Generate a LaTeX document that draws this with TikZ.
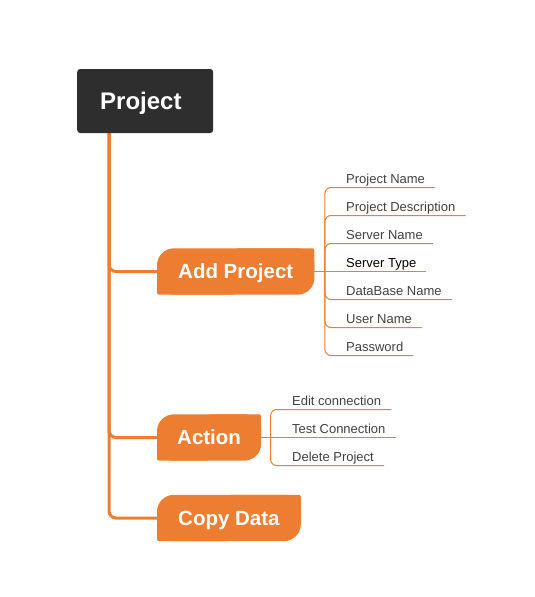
\documentclass[tikz,border=0pt]{standalone}
\usepackage{fontspec}
\setmainfont{Liberation Sans}
\usetikzlibrary{backgrounds}
\definecolor{brand}{HTML}{ED7D31}
\definecolor{rootgray}{HTML}{2E2E2E}
\definecolor{leafgray}{HTML}{404040}
\begin{document}
\begin{tikzpicture}[x=1pt,y=-1pt,
  root node/.style={fill=rootgray,rounded corners=3pt,text=white,font=\bfseries\fontsize{24}{28}\selectfont,anchor=west,minimum height=64pt,text width=90pt,inner xsep=23pt,align=left,text depth=0pt},
  branch node/.style={text=white,font=\bfseries\fontsize{20.5}{24}\selectfont,anchor=west,minimum height=46pt,inner xsep=21pt,text depth=0pt},
  leaf node/.style={text=leafgray,font=\fontsize{13}{15}\selectfont,anchor=south west,inner xsep=0pt,inner ysep=4pt,text depth=0pt},
  trunk/.style={brand,line width=3pt,rounded corners=7pt},
  twig/.style={brand,line width=1pt,rounded corners=6pt}]
  \useasboundingbox (0,0) rectangle (535,597);

  \node[root node] (root) at (77,101) {Project};
  \node[branch node] (add) at (157,271.5) {Add Project};
  \node[branch node,inner xsep=20pt] (act) at (157,437.5) {Action};
  \node[branch node] (copy) at (157,518) {Copy Data};

  \node[leaf node] (pname) at (346,187.5) {Project Name};
  \node[leaf node] (pdesc) at (346,215.5) {Project Description};
  \node[leaf node] (sname) at (346,243.5) {Server Name};
  \node[leaf node,text=black] (stype) at (346,271.5) {Server Type};
  \node[leaf node] (dbname) at (346,299.5) {DataBase Name};
  \node[leaf node] (uname) at (346,327.5) {User Name};
  \node[leaf node] (pwd) at (346,355.5) {Password};

  \node[leaf node] (edit) at (292,409.5) {Edit connection};
  \node[leaf node] (test) at (292,437.5) {Test Connection};
  \node[leaf node] (del) at (292,465.5) {Delete Project};

  \coordinate (addhub) at ([xshift=10.5pt]add.east);
  \coordinate (acthub) at ([xshift=9.5pt]act.east);

  % orange boxes behind the branch texts
  \begin{scope}[on background layer]
    \foreach \n in {add,act,copy}{
      \fill[brand,rounded corners=17pt] (\n.south west) rectangle (\n.north east);
      \fill[brand,rounded corners=2pt] (\n.south west) rectangle (\n.center);
      \fill[brand,rounded corners=2pt] (\n.center) rectangle (\n.north east);
    }
    \draw[trunk] ([xshift=32pt]root.south west) |- (add.west);
    \draw[trunk] ([xshift=32pt]root.south west) |- (act.west);
    \draw[trunk] ([xshift=32pt]root.south west) |- (copy.west);
  \end{scope}

  \draw[twig] (add.east) -- ([xshift=10pt]stype.south east);
  \foreach \n in {pname,pdesc,sname,dbname,uname,pwd}
    \draw[twig] (addhub) |- ([xshift=10pt]\n.south east);
  \draw[twig] (act.east) -- ([xshift=10pt]test.south east);
  \foreach \n in {edit,del}
    \draw[twig] (acthub) |- ([xshift=10pt]\n.south east);
\end{tikzpicture}
\end{document}
